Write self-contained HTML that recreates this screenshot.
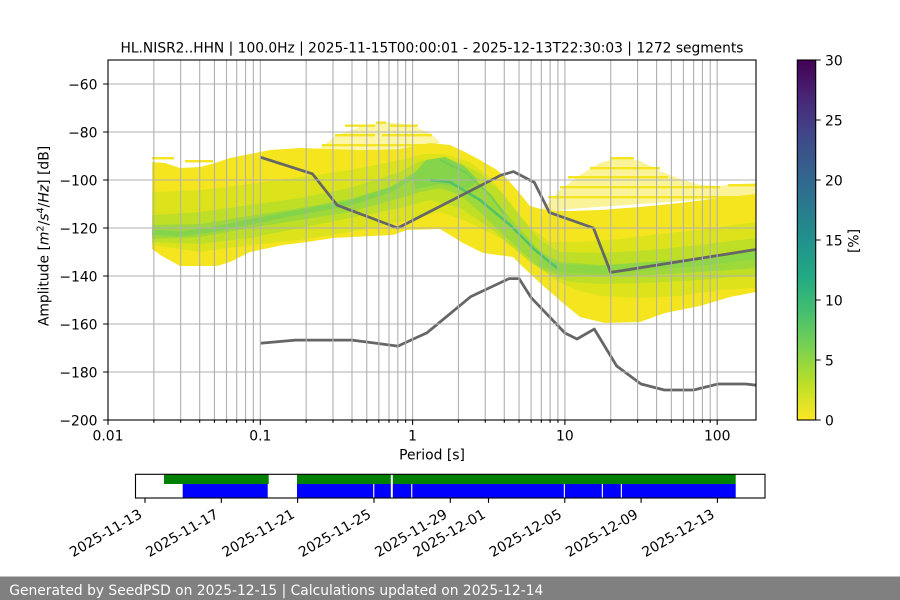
<!DOCTYPE html>
<html><head><meta charset="utf-8"><style>
body{margin:0;background:#fff}
svg{display:block}
text{font-family:"DejaVu Sans","Liberation Sans",sans-serif;fill:#000}
</style></head><body>
<svg width="900" height="600" viewBox="0 0 900 600" xmlns="http://www.w3.org/2000/svg">
<defs>
<clipPath id="ax"><rect x="108" y="60" width="648" height="360"/></clipPath>
<linearGradient id="vir" x1="0" y1="0" x2="0" y2="1">
<stop offset="0" stop-color="#440154"/><stop offset="0.1" stop-color="#482475"/><stop offset="0.2" stop-color="#414487"/><stop offset="0.3" stop-color="#355f8d"/><stop offset="0.4" stop-color="#2a788e"/><stop offset="0.5" stop-color="#21918c"/><stop offset="0.6" stop-color="#22a884"/><stop offset="0.7" stop-color="#44bf70"/><stop offset="0.8" stop-color="#7ad151"/><stop offset="0.9" stop-color="#bddf26"/><stop offset="1" stop-color="#fde725"/>
</linearGradient>
</defs>
<rect width="900" height="600" fill="#fff"/>

<g clip-path="url(#ax)">
<!-- speckle humps -->
<polygon points="318,150 335,136 360,127 385,122 410,125 430,133 440,142 430,148 318,151" fill="#f5e51f" fill-opacity="0.4"/>
<g fill="#f5e51f">
<rect x="376" y="121.5" width="10" height="2.4"/>
<rect x="345" y="124.5" width="30" height="2.4"/><rect x="390" y="124.5" width="28" height="2.4"/>
<rect x="335" y="134" width="40" height="2.4"/><rect x="382" y="134" width="50" height="2.4"/>
<rect x="322" y="144" width="110" height="2.4"/>
<rect x="152" y="157" width="22" height="2.4"/><rect x="185" y="160" width="28" height="2.4"/>
</g>
<polygon points="545,206 560,190 580,175 600,163 620,157 640,161 660,171 680,179 700,185 720,186 740,184 756,183 756,196 540,211" fill="#f5e51f" fill-opacity="0.45"/>
<g fill="#f5e51f">
<rect x="610" y="157" width="24" height="2.4"/>
<rect x="590" y="167" width="70" height="2.4"/>
<rect x="568" y="176" width="100" height="2.4"/>
<rect x="560" y="186" width="160" height="2.4"/><rect x="728" y="184" width="28" height="2.4"/>
<rect x="548" y="196" width="208" height="2.4"/>
</g>
<!-- envelope -->
<polygon fill="#f5e51f" points="152,162 165,163 180,168 200,167 215,163 230,158 250,154 270,150 300,148 330,149 360,150 400,149 430,143 450,145 465,152 480,160 497,170 507,179 517,190 530,206 545,210 570,211 600,210 640,207 680,203 720,198 756,194 756,292 730,297 700,306 665,313 640,322 605,323 580,317 563,303 540,283 523,267 513,257 483,253 463,243 440,229 407,230 393,235 353,237 333,238 307,242 283,245 250,252 230,262 217,266 180,266 162,256 152,249"/>
<!-- layer A -->
<polygon fill="#dde31b" points="152,192 200,190 250,184 300,177 350,170 400,160 425,154 445,154 470,162 490,177 510,202 530,227 550,242 580,242 620,239 660,234 700,230 740,224 756,222 756,288 720,290 680,296 640,298 600,296 575,290 555,280 540,268 520,253 500,238 470,223 440,212 400,222 350,232 300,240 250,245 200,252 152,245"/>
<!-- layer B -->
<polygon fill="#bfdf26" points="152,215 200,212 250,205 300,198 350,188 400,172 420,161 440,158 460,163 480,173 500,191 520,216 540,240 560,252 600,253 650,250 700,245 756,238 756,275 700,280 650,283 600,284 570,282 550,275 530,262 510,245 490,228 460,208 430,200 400,208 350,218 300,228 250,238 200,244 152,242"/>
<!-- layer C -->
<polygon fill="#9dd93b" points="152,225 200,224 250,216 300,208 350,199 400,184 420,172 440,165 460,171 480,186 500,206 520,229 540,251 560,262 600,265 650,262 700,258 756,252 756,268 700,272 650,275 600,276 560,276 540,268 520,250 500,232 480,212 460,195 440,188 420,192 400,198 350,212 300,220 250,228 200,237 152,239"/>
<polyline fill="none" stroke="#78d152" stroke-width="5" stroke-opacity="0.7" points="152,232 180,234 210,230 250,222 300,212 350,203 390,190 420,172 440,165"/>
<polygon fill="#86d449" points="412,176 426,160 445,157 464,166 478,180 468,189 440,184 416,189"/>
<polyline fill="none" stroke="#86d449" stroke-width="8" stroke-opacity="0.7" points="540,262 560,268 600,270 650,266 700,262 756,255"/>
<polyline fill="none" stroke="#4ac16d" stroke-width="2.6" stroke-opacity="0.9" points="430,180 450,182 480,200 510,225 535,250 557,268"/>
<polyline fill="none" stroke="#6ccd5a" stroke-width="2.2" stroke-opacity="0.8" points="440,160 465,172 490,195 505,215"/>
<!-- model lines -->
<path d="M260.3,157.2 L312.4,173.8 L337.2,205.2 L397.8,228 L500.9,175.2 L513.5,171.6 L534.3,182.4 L549.3,212.4 L593.5,228 L610.7,272.4 L756,249.5" fill="none" stroke="#666" stroke-width="2.78" stroke-linejoin="round"/>
<path d="M260.3,343.2 L295.4,340.1 L352,340.1 L397.8,346.1 L426.8,332.9 L470.5,296.8 L509.1,278.6 L519.1,278.6 L531.1,297.6 L564.9,333 L577,339 L594.3,329.1 L616.7,366 L641,384 L664.4,390 L693.6,390 L717.9,384 L745.8,384 L756,385.2" fill="none" stroke="#666" stroke-width="2.78" stroke-linejoin="round"/>
<!-- grid -->
<path stroke="#b0b0b0" stroke-width="1.1" fill="none" d="M153.85 60V420M180.67 60V420M199.69 60V420M214.45 60V420M226.51 60V420M236.71 60V420M245.54 60V420M253.33 60V420M260.3 60V420M306.15 60V420M332.97 60V420M351.99 60V420M366.75 60V420M378.81 60V420M389.01 60V420M397.84 60V420M405.63 60V420M412.6 60V420M458.45 60V420M485.27 60V420M504.29 60V420M519.05 60V420M531.11 60V420M541.31 60V420M550.14 60V420M557.93 60V420M564.9 60V420M610.75 60V420M637.57 60V420M656.59 60V420M671.35 60V420M683.41 60V420M693.61 60V420M702.44 60V420M710.23 60V420M717.2 60V420M108 84H756M108 132H756M108 180H756M108 228H756M108 276H756M108 324H756M108 372H756"/>
</g>
<!-- axes frame -->
<rect x="108" y="60" width="648" height="360" fill="none" stroke="#000" stroke-width="1.1"/>
<!-- ticks -->
<path stroke="#000" stroke-width="1.1" fill="none" d="M108 420V424.9M260.3 420V424.9M412.6 420V424.9M564.9 420V424.9M717.2 420V424.9M153.85 420V422.8M180.67 420V422.8M199.69 420V422.8M214.45 420V422.8M226.51 420V422.8M236.71 420V422.8M245.54 420V422.8M253.33 420V422.8M306.15 420V422.8M332.97 420V422.8M351.99 420V422.8M366.75 420V422.8M378.81 420V422.8M389.01 420V422.8M397.84 420V422.8M405.63 420V422.8M458.45 420V422.8M485.27 420V422.8M504.29 420V422.8M519.05 420V422.8M531.11 420V422.8M541.31 420V422.8M550.14 420V422.8M557.93 420V422.8M610.75 420V422.8M637.57 420V422.8M656.59 420V422.8M671.35 420V422.8M683.41 420V422.8M693.61 420V422.8M702.44 420V422.8M710.23 420V422.8M103.1 84H108M103.1 132H108M103.1 180H108M103.1 228H108M103.1 276H108M103.1 324H108M103.1 372H108M103.1 420H108"/>
<g font-size="13.9" text-anchor="end">
<text x="97.5" y="89.3">&#8722;60</text>
<text x="97.5" y="137.3">&#8722;80</text>
<text x="97.5" y="185.3">&#8722;100</text>
<text x="97.5" y="233.3">&#8722;120</text>
<text x="97.5" y="281.3">&#8722;140</text>
<text x="97.5" y="329.3">&#8722;160</text>
<text x="97.5" y="377.3">&#8722;180</text>
<text x="97.5" y="425.3">&#8722;200</text>
</g>
<g font-size="13.9" text-anchor="middle">
<text x="108" y="440.5">0.01</text>
<text x="260.3" y="440.5">0.1</text>
<text x="412.6" y="440.5">1</text>
<text x="564.9" y="440.5">10</text>
<text x="717.2" y="440.5">100</text>
<text x="432" y="459.5">Period [s]</text>
<text x="432" y="52.5" textLength="623" lengthAdjust="spacingAndGlyphs">HL.NISR2..HHN | 100.0Hz | 2025-11-15T00:00:01 - 2025-12-13T22:30:03 | 1272 segments</text>
</g>
<text font-size="13.9" text-anchor="middle" transform="translate(48.5,236) rotate(-90)">Amplitude [<tspan font-style="italic">m</tspan><tspan font-size="9.7" dy="-5">2</tspan><tspan dy="5">/</tspan><tspan font-style="italic">s</tspan><tspan font-size="9.7" dy="-5">4</tspan><tspan dy="5">/</tspan><tspan font-style="italic">Hz</tspan>] [dB]</text>

<!-- colorbar -->
<rect x="797.3" y="60" width="18.4" height="360" fill="url(#vir)" stroke="#000" stroke-width="1.1"/>
<path stroke="#000" stroke-width="1.1" d="M815.7 60H820.6M815.7 120H820.6M815.7 180H820.6M815.7 240H820.6M815.7 300H820.6M815.7 360H820.6M815.7 420H820.6"/>
<g font-size="13.9">
<text x="825" y="65.3">30</text>
<text x="825" y="125.3">25</text>
<text x="825" y="185.3">20</text>
<text x="825" y="245.3">15</text>
<text x="825" y="305.3">10</text>
<text x="825" y="365.3">5</text>
<text x="825" y="425.3">0</text>
</g>
<text font-size="13.9" text-anchor="middle" transform="translate(858.5,241) rotate(-90)">[%]</text>

<!-- timeline -->
<rect x="164" y="474.5" width="104.7" height="9.5" fill="#008000"/>
<rect x="182.7" y="484" width="85" height="14" fill="#0000ff"/>
<rect x="297" y="474.5" width="438.7" height="9.5" fill="#008000"/>
<rect x="297" y="484" width="438.7" height="14" fill="#0000ff"/>
<g fill="#fff">
<rect x="390.8" y="474.5" width="2" height="23.5"/>
<rect x="373.2" y="484" width="1.1" height="14"/>
<rect x="411.2" y="484" width="1.1" height="14"/>
<rect x="563.8" y="484" width="1.1" height="14"/>
<rect x="601.8" y="484" width="1.1" height="14"/>
<rect x="620.8" y="484" width="1.1" height="14"/>
</g>
<rect x="135.5" y="474.3" width="629.5" height="23.7" fill="none" stroke="#000" stroke-width="1.1"/>
<path stroke="#000" stroke-width="1.1" d="M145 498V502.9M221.3 498V502.9M297.6 498V502.9M374 498V502.9M450.3 498V502.9M488.5 498V502.9M564.8 498V502.9M641.1 498V502.9M717.4 498V502.9"/>
<g font-size="13.9" text-anchor="end">
<text x="143" y="517" transform="rotate(-30 143 517)">2025-11-13</text>
<text x="219.3" y="517" transform="rotate(-30 219.3 517)">2025-11-17</text>
<text x="295.6" y="517" transform="rotate(-30 295.6 517)">2025-11-21</text>
<text x="372" y="517" transform="rotate(-30 372 517)">2025-11-25</text>
<text x="448.3" y="517" transform="rotate(-30 448.3 517)">2025-11-29</text>
<text x="486.5" y="517" transform="rotate(-30 486.5 517)">2025-12-01</text>
<text x="562.8" y="517" transform="rotate(-30 562.8 517)">2025-12-05</text>
<text x="639.1" y="517" transform="rotate(-30 639.1 517)">2025-12-09</text>
<text x="715.4" y="517" transform="rotate(-30 715.4 517)">2025-12-13</text>
</g>

<!-- footer -->
<rect x="0" y="576.5" width="900" height="23.5" fill="#808080"/>
<text x="9.3" y="595" font-size="13.9" style="fill:#fff" textLength="534" lengthAdjust="spacingAndGlyphs">Generated by SeedPSD on 2025-12-15 | Calculations updated on 2025-12-14</text>
</svg>
</body></html>
